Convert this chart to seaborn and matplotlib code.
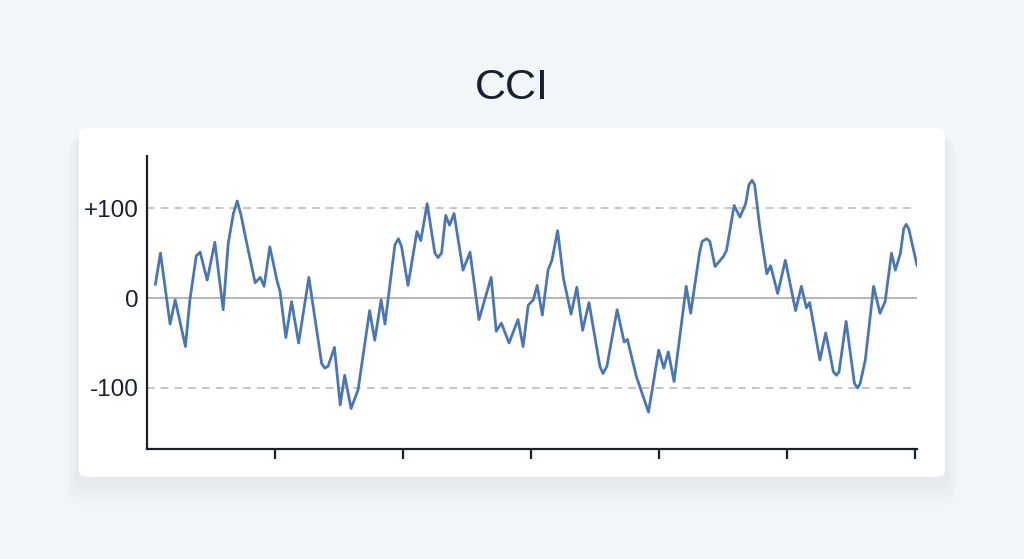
import matplotlib
matplotlib.use("Agg")
import matplotlib.pyplot as plt
from matplotlib.patches import FancyBboxPatch
import pandas as pd
import seaborn as sns

# data (period, CCI value)
period = [1.3, 2.1, 3.6, 4.4, 6.0, 6.7, 7.7, 8.3, 9.4, 10.6,
          11.9, 12.7, 13.5, 14.1, 14.7, 15.5, 16.9, 17.7, 18.3, 19.2,
          20.3, 20.8, 21.7, 22.6, 23.7, 25.3, 27.3, 27.8, 28.3, 29.3,
          30.2, 30.9, 31.9, 33.0, 34.8, 35.6, 36.6, 37.2, 38.75, 39.3,
          39.8, 40.8, 42.2, 42.8, 43.8, 45.0, 45.5, 46.05, 46.7, 47.3,
          48.0, 49.4, 50.5, 51.9, 53.8, 54.6, 55.4, 56.6, 58.0, 58.8,
          59.6, 60.4, 61.0, 61.8, 62.7, 63.3, 64.2, 65.1, 66.3, 67.2,
          68.1, 69.1, 70.8, 71.3, 71.9, 73.5, 74.6, 75.1, 76.5, 78.4,
          80.0, 80.8, 81.5, 82.4, 84.3, 85.0, 86.4, 86.8, 87.5, 88.0,
          88.8, 90.1, 90.6, 91.8, 92.7, 93.6, 94.1, 94.6, 95.0, 95.8,
          96.9, 97.5, 98.6, 99.8, 101.4, 102.3, 103.1, 103.6, 105.2, 106.1,
          106.8, 107.3, 107.8, 108.2, 109.3, 110.6, 111.1, 111.5, 112.3, 113.6,
          114.6, 115.4, 116.4, 117.0, 117.8, 118.3, 118.7, 119.1, 120.4]
cci = [15, 50, -29, -2, -54, -2, 47, 51, 20, 62,
       -13, 61, 94, 108, 92, 64, 17, 23, 13, 57,
       20, 7, -44, -4, -50, 23, -73, -78, -76, -55,
       -119, -86, -123, -102, -14, -47, -2, -29, 59, 66,
       57, 14, 74, 64, 105, 50, 45, 50, 92, 81,
       94, 31, 51, -24, 23, -37, -28, -50, -24, -54,
       -8, -2, 14, -19, 31, 42, 75, 22, -18, 12,
       -36, -5, -76, -84, -76, -13, -49, -46, -87, -127,
       -58, -78, -60, -93, 13, -17, 51, 63, 66, 63,
       35, 46, 53, 103, 90, 105, 126, 131, 126, 79,
       27, 36, 5, 42, -14, 13, -11, -5, -69, -39,
       -63, -82, -86, -82, -26, -95, -100, -95, -69, 13,
       -17, -4, 50, 31, 50, 77, 82, 77, 36]
levels = [100, 0, -100]
level_labels = ["+100", "0", "-100"]
x_ticks = [20, 40, 60, 80, 100, 120]

df = pd.DataFrame({"period": period, "cci": cci})

sns.set_theme(style="white")
plt.rcParams['font.family'] = ['Liberation Sans', 'DejaVu Sans']

bg = "#f3f6f9"
ink = "#16202e"
fig = plt.figure(figsize=(10.24, 5.59), dpi=100, facecolor=bg)

# card shadow + card
for i in range(7):
    pad = 0.004 * (i + 1)
    fig.patches.append(FancyBboxPatch((0.0771 - pad * 0.4, 0.1467 - pad * 1.8),
                                      0.8457 + pad * 0.8, 0.6243 + pad * 0.9,
                                      boxstyle="round,pad=0,rounding_size=0.015",
                                      transform=fig.transFigure, facecolor="#8a9ab0",
                                      edgecolor="none", alpha=0.014, zorder=-2))
fig.patches.append(FancyBboxPatch((0.0771, 0.1467), 0.8457, 0.6243,
                                  boxstyle="round,pad=0,rounding_size=0.01",
                                  transform=fig.transFigure, facecolor="white",
                                  edgecolor="none", zorder=-1))

fig.text(0.5, 0.842, "CCI", ha="center", va="center", fontsize=31, color=ink)

ax = fig.add_axes([0.1436, 0.1968, 0.752, 0.5241])
ax.set_zorder(2)
ax.set_facecolor("none")

ax.axhline(100, color="#b5b5b5", lw=1.1, ls=(0, (5, 4)), zorder=1)
ax.axhline(-100, color="#b5b5b5", lw=1.1, ls=(0, (5, 4)), zorder=1)
ax.axhline(0, color="#b0b0b0", lw=1.3, zorder=1)

sns.lineplot(data=df, x="period", y="cci", ax=ax, color="#4a77b4", lw=2.0,
             sort=True, zorder=3, solid_joinstyle="round", solid_capstyle="round")

ax.set_xlim(0, 120.4)
ax.set_ylim(-168, 158)
ax.set_xticks(x_ticks)
ax.set_xticklabels([])
ax.set_yticks(levels)
ax.set_yticklabels(level_labels)
ax.set_xlabel("")
ax.set_ylabel("")

for side in ["top", "right"]:
    ax.spines[side].set_visible(False)
for side in ["left", "bottom"]:
    ax.spines[side].set_color(ink)
    ax.spines[side].set_linewidth(1.6)

ax.tick_params(axis="x", direction="out", length=7, width=1.6, color=ink, bottom=True)
ax.tick_params(axis="y", length=0, pad=6, labelsize=17.5, labelcolor=ink)

fig.savefig("out.png", dpi=100, facecolor=bg)
